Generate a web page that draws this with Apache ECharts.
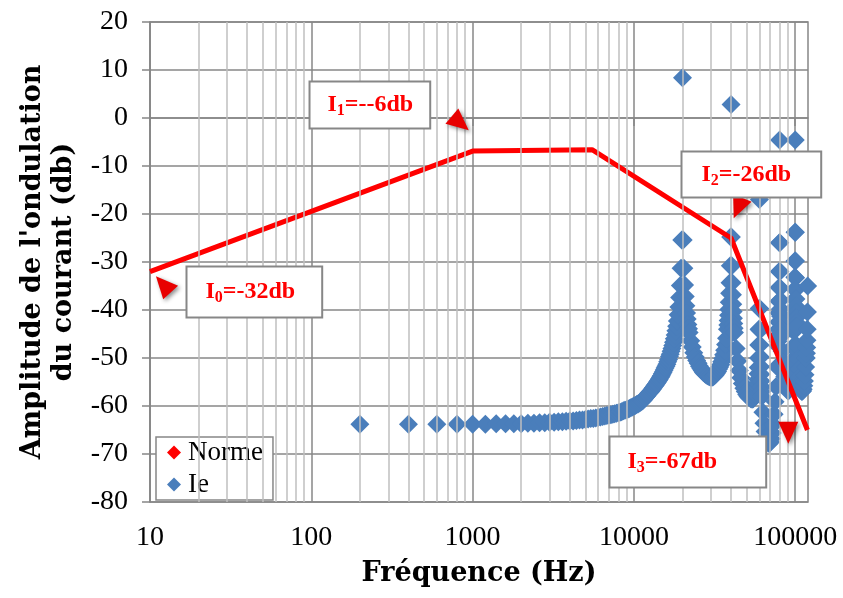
<!DOCTYPE html>
<html><head><meta charset="utf-8">
<script src="https://cdn.jsdelivr.net/npm/echarts@6/dist/echarts.min.js"></script>
<style>html,body{margin:0;padding:0;background:#fff}#c{width:843px;height:598px}</style>
</head><body><div id="c"></div><script>
// ---- data ----
const xTickValues = [10, 100, 1000, 10000, 100000];
const minorGridValues = [20,30,40,50,60,70,80,90,200,300,400,500,600,700,800,900,
  2000,3000,4000,5000,6000,7000,8000,9000,20000,30000,40000,50000,60000,70000,80000,90000];
const normeFreq = [10, 1000, 5500, 40000, 119000];
const normeDb = [-32, -6.9, -6.6, -25, -65];
const ieData = [
[200,-63.8],[400,-63.8],[600,-63.8],[800,-63.8],[1000,-63.8],[1200,-63.8],[1400,-63.7],[1600,-63.7],[1800,-63.7],[2000,-63.7],
[2200,-63.6],[2400,-63.6],[2600,-63.5],[2800,-63.5],[3000,-63.4],[3200,-63.4],[3400,-63.3],[3600,-63.3],[3800,-63.2],[4000,-63.1],
[4200,-63.1],[4400,-63.0],[4600,-62.9],[4800,-62.9],[5000,-62.8],[5200,-62.7],[5400,-62.6],[5600,-62.6],[5800,-62.5],[6000,-62.4],
[6200,-62.3],[6400,-62.2],[6600,-62.1],[6800,-62.0],[7000,-61.9],[7200,-61.8],[7400,-61.7],[7600,-61.6],[7800,-61.5],[8000,-61.4],
[8200,-61.3],[8400,-61.2],[8600,-61.0],[8800,-60.9],[9000,-60.8],[9200,-60.6],[9400,-60.5],[9600,-60.3],[9800,-60.2],[10000,-60.0],
[10200,-59.9],[10400,-59.7],[10600,-59.6],[10800,-59.4],[11000,-59.2],[11200,-59.0],[11400,-58.8],[11600,-58.5],[11800,-58.2],[12000,-57.9],
[12200,-57.6],[12400,-57.3],[12600,-57.1],[12800,-56.8],[13000,-56.5],[13200,-56.2],[13400,-55.9],[13600,-55.6],[13800,-55.3],[14000,-55.0],
[14200,-54.7],[14400,-54.4],[14600,-54.0],[14800,-53.7],[15000,-53.3],[15200,-52.9],[15400,-52.5],[15600,-52.1],[15800,-51.7],[16000,-51.3],
[16200,-50.8],[16400,-50.3],[16600,-49.7],[16800,-49.2],[17000,-48.6],[17200,-48.0],[17400,-47.4],[17600,-46.7],[17800,-46.0],[18000,-45.2],
[18200,-44.3],[18400,-43.4],[18600,-42.3],[18800,-41.0],[19000,-39.4],[19200,-37.4],[19400,-34.9],[19600,-31.3],[19800,-25.4],
[20000,8.4],
[20200,-25.4],[20400,-31.3],[20600,-34.8],[20800,-37.2],[21000,-39.1],[21200,-40.6],[21400,-41.9],[21600,-43.0],[21800,-43.9],[22000,-44.7],
[22500,-46.4],[23000,-47.7],[23500,-48.9],[24000,-49.8],[24500,-50.5],[25000,-51.1],[25500,-51.7],[26000,-52.2],[26500,-52.6],[27000,-53.0],
[27500,-53.3],[28000,-53.5],[28500,-53.7],[29000,-53.8],[29500,-53.9],[30000,-54.0],[30500,-54.0],[31000,-53.9],[31500,-53.7],[32000,-53.5],
[32500,-53.1],[33000,-52.8],[33500,-52.3],[34000,-51.9],[34500,-51.4],[35000,-50.8],[35500,-50.1],[36000,-49.3],[36500,-48.4],[37000,-47.2],
[37500,-45.9],
[38000,-44.0],[38200,-43.1],[38400,-42.2],[38600,-41.1],[38800,-39.9],[39000,-38.4],[39200,-36.5],[39400,-34.3],[39600,-30.8],[39800,-24.8],
[40000,2.8],
[40200,-24.8],[40400,-30.8],[40600,-34.3],[40800,-36.8],[41000,-38.8],[41200,-40.3],[41400,-41.7],[41600,-42.8],[41800,-43.8],[42000,-44.7],
[43000,-48.0],[44000,-50.6],[45000,-52.6],[46000,-54.1],[47000,-55.3],[48000,-56.3],[49000,-57.0],[50000,-57.6],[51000,-58.0],[52000,-58.3],
[53000,-58.5],[54000,-58.6],[55000,-58.5],[56000,-58.2],[57000,-57.6],
[58000,-56.5],[58200,-56.0],[58400,-55.3],[58600,-54.5],[58800,-53.3],[59000,-52.0],[59200,-50.0],[59400,-47.3],[59600,-44.0],[59800,-39.7],
[60000,-17.0],
[60200,-39.7],[60400,-44.2],[60600,-47.3],[60800,-49.8],[61000,-51.8],[61200,-53.4],[61400,-54.8],[61600,-56.0],[61800,-57.0],[62000,-58.0],
[63000,-61.3],[64000,-63.6],[65000,-65.3],[66000,-66.5],[67000,-67.3],[68000,-67.7],[69000,-67.8],[70000,-67.5],[71000,-66.8],[72000,-65.6],
[73000,-63.9],[74000,-61.7],[75000,-59.1],[76000,-56.0],[77000,-51.8],
[78000,-47.5],[78200,-46.5],[78400,-45.3],[78600,-44.0],[78800,-42.5],[79000,-40.6],[79200,-38.2],[79400,-35.3],[79600,-32.0],[79800,-26.0],
[80000,-4.6],
[80200,-26.0],[80400,-32.0],[80600,-35.4],[80800,-37.9],[81000,-39.8],[81200,-41.3],[81400,-42.6],[81600,-43.7],[81800,-44.6],[82000,-45.4],
[83000,-48.6],[84000,-50.8],[85000,-52.5],[86000,-53.9],[87000,-55.0],[88000,-55.9],[89000,-56.5],[90000,-56.8],[91000,-56.8],[92000,-56.4],
[93000,-55.6],[94000,-54.3],[95000,-52.6],[96000,-50.4],[97000,-47.6],
[98000,-44.5],[98200,-43.6],[98400,-42.5],[98600,-41.2],[98800,-39.7],[99000,-37.8],[99200,-35.7],[99400,-33.2],[99600,-29.8],[99800,-23.8],
[100000,-4.6],
[100200,-23.8],[100400,-29.8],[100600,-33.3],[100800,-35.8],[101000,-37.7],[101200,-39.2],[101400,-40.5],[101600,-41.6],[101800,-42.6],[102000,-43.5],
[103000,-47.5],[104000,-50.2],[105000,-52.3],[106000,-54.0],[107000,-55.3],[108000,-56.2],[109000,-56.8],[110000,-57.0],[111000,-56.9],[112000,-56.5],
[113000,-55.8],[114000,-54.8],[115000,-53.5],[116000,-51.9],[117000,-50.0],
[117400,-49.0],[117800,-47.8],[118200,-46.3],[118600,-44.0],[119000,-40.4],[119400,-35.0]
];

// ---- chart ----
const normeData = normeFreq.map((f, i) => [f, normeDb[i]]);
const gridDark = '#878787', gridLight = '#bfbfbf';
const lbl = {fontFamily: 'Liberation Serif', fontWeight: 'bold', color: '#ff0000'};
const rich = {
  a: Object.assign({}, lbl, {fontSize: 24, lineHeight: 28}),
  s: Object.assign({}, lbl, {fontSize: 16, lineHeight: 14, verticalAlign: 'bottom'})
};
function box(coord, sub, rest, padding) {
  return {coord: coord, symbol: 'rect', symbolSize: 1, itemStyle: {color: 'rgba(0,0,0,0)'},
    label: {show: true, position: [0, 0], formatter: '{a|I}{s|' + sub + '}{a|' + rest + '}',
      padding: padding, backgroundColor: '#fff', borderColor: gridDark, borderWidth: 2, rich: rich}};
}
function arrow(coord, rot) {
  return {coord: coord, symbol: 'triangle', symbolSize: [20, 22], symbolRotate: rot,
    itemStyle: {color: '#e80000', shadowBlur: 4, shadowColor: 'rgba(0,0,0,0.45)', shadowOffsetX: 2, shadowOffsetY: 2},
    label: {show: false}};
}
const chart = echarts.init(document.getElementById('c'));
chart.setOption({
  animation: false,
  backgroundColor: '#fff',
  grid: {left: 150, right: 35, top: 22, bottom: 96, show: true, borderColor: gridDark, borderWidth: 1.5},
  legend: {
    data: ['Norme', 'Ie'], orient: 'vertical', left: 156, top: 437, icon: 'diamond',
    itemWidth: 14, itemHeight: 14, itemGap: 5, padding: [2, 10, 2, 11],
    borderColor: gridDark, borderWidth: 1.5, backgroundColor: '#fff',
    textStyle: {fontFamily: 'Liberation Serif', fontSize: 27, color: '#000', padding: [0, 0, 0, 2]}
  },
  xAxis: {
    type: 'log', logBase: 10, min: 10, max: 120000,
    name: 'Fréquence (Hz)', nameLocation: 'middle', nameGap: 58,
    nameTextStyle: {fontFamily: 'DejaVu Serif', fontWeight: 'bold', fontSize: 27, color: '#000'},
    axisLine: {lineStyle: {color: gridDark, width: 1.5}},
    axisTick: {show: true, length: 8, customValues: xTickValues, lineStyle: {color: gridDark, width: 1.5}},
    axisLabel: {customValues: xTickValues, margin: 22, fontFamily: 'Liberation Serif', fontSize: 28, color: '#000',
      formatter: v => String(Math.round(v))},
    splitLine: {show: true, lineStyle: {color: gridDark, width: 1.5}}
  },
  yAxis: {
    type: 'value', min: -80, max: 20, interval: 10,
    name: "Amplitude de l'ondulation\ndu courant (db)", nameLocation: 'middle', nameGap: 68, nameRotate: 90,
    nameTextStyle: {fontFamily: 'DejaVu Serif', fontWeight: 'bold', fontSize: 27, lineHeight: 31, color: '#000'},
    axisLine: {show: true, lineStyle: {color: gridDark, width: 1.5}},
    axisTick: {show: true, length: 8, lineStyle: {color: gridDark, width: 1.5}},
    axisLabel: {margin: 22, fontFamily: 'Liberation Serif', fontSize: 28, color: '#000'},
    splitLine: {show: true, lineStyle: {color: gridDark, width: 1.5}}
  },
  series: [
    {
      name: 'minor', type: 'line', data: [], silent: true, z: 1,
      markLine: {silent: true, symbol: 'none', label: {show: false},
        lineStyle: {color: gridLight, width: 1.5, type: 'solid'},
        data: minorGridValues.map(v => ({xAxis: v}))}
    },
    {
      name: 'Ie', type: 'scatter', data: ieData, symbol: 'diamond', symbolSize: 19, z: 3,
      itemStyle: {color: '#4A7EBB', opacity: 1}
    },
    {
      name: 'Norme', type: 'line', data: normeData, showSymbol: false, symbol: 'diamond', z: 4,
      lineStyle: {color: '#ff0000', width: 5}, itemStyle: {color: '#ff0000'},
      markPoint: {
        label: {show: false},
        data: [
          arrow([12.09, -34.65], 42),
          arrow([839, -1.1], -130),
          arrow([44190, -18.75], 157),
          arrow([90580, -65.56], 180),
          box([17.2, -31.25], '0', '=-32db', [10, 26, 11, 18]),
          box([99.6, 7.29], '1', '=--6db', [8, 16, 9, 17]),
          box([20150, -7.29], '2', '=-26db', [8, 29, 8, 19]),
          box([7210, -66.67], '3', '=-67db', [10, 48, 11, 17])
        ]
      }
    }
  ]
});
</script></body></html>
